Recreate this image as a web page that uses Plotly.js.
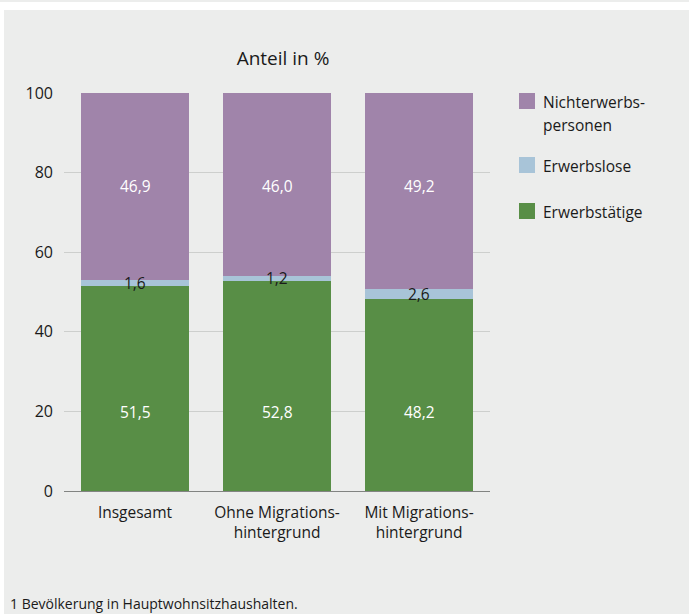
<!DOCTYPE html>
<html>
<head>
<meta charset="utf-8">
<script src="https://cdn.plot.ly/plotly-3.0.1.min.js"></script>
<style>html,body{margin:0;padding:0;background:#fff;}#chart{width:689px;height:614px;}</style>
</head>
<body>
<div id="chart"></div>
<script>
const categories = ["Insgesamt", "Ohne Migrations-<br>hintergrund", "Mit Migrations-<br>hintergrund"];
const erwerbstaetige = [51.5, 52.8, 48.2];
const erwerbslose = [1.6, 1.2, 2.6];
const nichterwerbs = [46.9, 46.0, 49.2];
const seriesNames = ["Erwerbstätige", "Erwerbslose", "Nichterwerbs-<br>personen"];
const yTicks = [0, 20, 40, 60, 80, 100];
const footnote = "1 Bevölkerung in Hauptwohnsitzhaushalten.";

const fmt = v => v.toFixed(1).replace(".", ",");
const FONT = "Open Sans, sans-serif";
const TXT = "#1a1a1a";
const colors = ["rgb(88,142,70)", "rgb(168,196,216)", "rgb(160,132,170)"];

// plot area in pixels
const L = 64, R = 199, T = 93, B = 123, W = 689, H = 614;
const PW = W - L - R, PH = H - T - B;
const px = x => (x - L) / PW;
const py = y => (H - B - y) / PH;

const traces = [erwerbstaetige, erwerbslose, nichterwerbs].map((vals, i) => ({
  type: "bar",
  x: categories,
  y: vals,
  name: seriesNames[i],
  marker: {color: colors[i], line: {width: 0}},
  width: 0.754,
  showlegend: false,
  hoverinfo: "skip"
}));

const annotations = [];
categories.forEach((c, i) => {
  annotations.push({x: c, y: 19.85, xref: "x", yref: "y", text: fmt(erwerbstaetige[i]), showarrow: false,
    font: {family: FONT, size: 15.5, color: "#ffffff"}});
  annotations.push({x: c, y: erwerbstaetige[i] + erwerbslose[i] / 2, xref: "x", yref: "y", text: fmt(erwerbslose[i]), showarrow: false,
    font: {family: FONT, size: 15.5, color: TXT}});
  annotations.push({x: c, y: 76.6, xref: "x", yref: "y", text: fmt(nichterwerbs[i]), showarrow: false,
    font: {family: FONT, size: 15.5, color: "#ffffff"}});
});
annotations.push({x: px(8), xref: "paper", xanchor: "left", y: py(603), yref: "paper", yanchor: "middle",
  text: footnote, showarrow: false, font: {family: FONT, size: 14, color: TXT}});

// manual legend (top to bottom: Nichterwerbspersonen, Erwerbslose, Erwerbstätige)
const legendOrder = [2, 1, 0];
const legendCenters = [101, 165, 211];
const shapes = [
  {type: "rect", xref: "paper", yref: "paper", x0: px(4), x1: px(689), y0: py(614), y1: py(10),
    fillcolor: "rgb(236,237,236)", line: {width: 0}, layer: "below"},
  {type: "rect", xref: "paper", yref: "paper", x0: px(0), x1: px(689), y0: py(2), y1: py(0),
    fillcolor: "rgb(236,237,236)", line: {width: 0}, layer: "below"}
];
legendOrder.forEach((si, k) => {
  const cy = legendCenters[k];
  shapes.push({type: "rect", xref: "paper", yref: "paper", x0: px(519), x1: px(535), y0: py(cy + 8), y1: py(cy - 8),
    fillcolor: colors[si], line: {width: 0}});
  seriesNames[si].split("<br>").forEach((line, j) => {
    annotations.push({x: px(541), xref: "paper", xanchor: "left", y: py(cy + 1 + j * 23), yref: "paper", yanchor: "middle",
      text: line, showarrow: false, font: {family: FONT, size: 15.5, color: TXT}});
  });
});

const layout = {
  width: W, height: H,
  margin: {l: L, r: R, t: T, b: B, pad: 0},
  paper_bgcolor: "#ffffff",
  plot_bgcolor: "rgba(0,0,0,0)",
  barmode: "stack",
  showlegend: false,
  title: {text: "Anteil in %", x: 283 / W, xanchor: "center", y: 1 - 58 / H, yanchor: "middle",
    font: {family: FONT, size: 19, color: TXT}},
  font: {family: FONT, size: 14, color: TXT},
  xaxis: {type: "category", range: [-0.5, 2.5], showgrid: false, zeroline: false, showline: false,
    ticks: "", ticklabelstandoff: 10, tickfont: {family: FONT, size: 15.5, color: TXT}, fixedrange: true},
  yaxis: {range: [0, 100], tickvals: yTicks, ticktext: yTicks.map(String), showgrid: true,
    gridcolor: "rgb(205,207,205)", gridwidth: 1, zeroline: true, zerolinecolor: "rgb(130,132,130)", zerolinewidth: 1,
    showline: false, ticks: "", ticklabelstandoff: 10, tickfont: {family: FONT, size: 16, color: TXT}, fixedrange: true},
  shapes: shapes,
  annotations: annotations,
  bargap: 0.246
};

Plotly.newPlot("chart", traces, layout, {displayModeBar: false, staticPlot: true});
</script>
</body>
</html>
